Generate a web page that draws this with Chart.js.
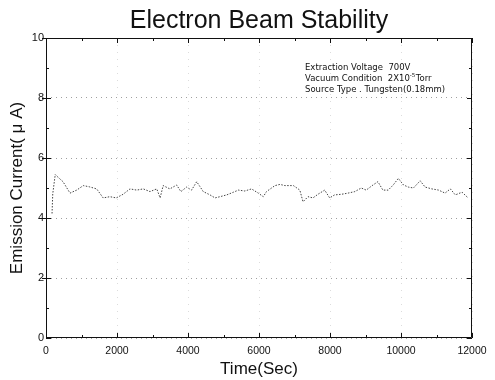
<!DOCTYPE html>
<html><head><meta charset="utf-8">
<script src="https://cdn.jsdelivr.net/npm/chart.js@4/dist/chart.umd.min.js"></script>
<style>html,body{margin:0;padding:0;background:#fff}#wrap{width:495px;height:380px}</style>
</head><body><div id="wrap"><canvas id="c" width="495" height="380"></canvas></div>
<script>
const timeSec = [170,190,260,300,480,676,864,1050,1220,1427,1610,1800,1980,2170,2366,2555,2740,2930,3120,3215,3300,3490,3680,3800,3960,4100,4245,4430,4620,4760,4900,5090,5280,5420,5600,5790,5980,6120,6210,6450,6590,6730,6970,7150,7240,7380,7520,7660,7850,7990,8130,8320,8510,8700,8880,9020,9210,9350,9490,9640,9780,9925,10070,10210,10350,10540,10680,10870,11060,11240,11390,11530,11720,11890];
const currentUA = [4.15,4.8,5.45,5.4,5.21,4.83,4.93,5.08,5.04,4.97,4.67,4.71,4.67,4.79,4.97,4.93,4.97,4.88,4.97,4.67,5.08,4.97,5.1,4.88,5.03,4.93,5.21,4.88,4.77,4.67,4.71,4.77,4.86,4.93,4.9,4.97,4.83,4.71,4.88,5.08,5.12,5.08,5.08,4.93,4.54,4.71,4.67,4.79,4.93,4.67,4.77,4.79,4.83,4.88,5.0,4.93,5.1,5.21,4.93,4.93,5.1,5.32,5.1,5.03,5.0,5.24,5.03,4.97,4.93,4.83,4.97,4.77,4.86,4.67];
const xTicks = [0,2000,4000,6000,8000,10000,12000];
const yTicks = [0,2,4,6,8,10];
const noteLines = ["Extraction Voltage  700V", "Vacuum Condition  2X10", "Source Type . Tungsten(0.18mm)"];
const noteSup = "-5";
const noteTail = "Torr";

const FONT = "'Liberation Sans', Arial, sans-serif";
const NOTE_FONT = "'DejaVu Sans', sans-serif";

const framePlugin = {
  id: 'frame',
  afterDatasetsDraw(chart) {
    const {ctx, chartArea: a, scales: {x, y}} = chart;
    ctx.save();
    ctx.strokeStyle = '#111';
    ctx.lineWidth = 1;
    ctx.beginPath();
    ctx.rect(a.left + 0.5, a.top + 0.5, a.right - a.left - 1, a.bottom - a.top - 1);
    ctx.stroke();
    ctx.beginPath();
    for (let v = 0; v <= 12000; v += 1000) {
      const px = Math.round(x.getPixelForValue(v)) + 0.5;
      const L = (v % 2000 === 0) ? 5 : 3;
      ctx.moveTo(px, a.bottom); ctx.lineTo(px, a.bottom - L);
      ctx.moveTo(px, a.top); ctx.lineTo(px, a.top + L);
    }
    for (let v = 0; v <= 10; v += 1) {
      const py = Math.round(y.getPixelForValue(v)) + 0.5;
      const L = (v % 2 === 0) ? 5 : 3;
      ctx.moveTo(a.left, py); ctx.lineTo(a.left + L, py);
      ctx.moveTo(a.right, py); ctx.lineTo(a.right - L, py);
      if (v % 2 === 0 && v > 0) { ctx.moveTo(a.left - 4, py); ctx.lineTo(a.left, py); }
    }
    ctx.stroke();
    // annotation
    ctx.fillStyle = '#111';
    ctx.font = '8.5px ' + NOTE_FONT;
    ctx.textBaseline = 'middle';
    const x0 = 305;
    ctx.fillText(noteLines[0], x0, 68);
    ctx.fillText(noteLines[1], x0, 79);
    let w = ctx.measureText(noteLines[1]).width;
    ctx.font = '5.5px ' + NOTE_FONT;
    ctx.fillText(noteSup, x0 + w, 76);
    const w2 = ctx.measureText(noteSup).width;
    ctx.font = '8.5px ' + NOTE_FONT;
    ctx.fillText(noteTail, x0 + w + w2 + 0.5, 79);
    ctx.fillText(noteLines[2], x0, 90);
    ctx.restore();
  }
};

new Chart(document.getElementById('c'), {
  type: 'line',
  data: {
    datasets: [{
      data: timeSec.map((t, i) => ({x: t, y: currentUA[i]})),
      borderColor: '#444',
      borderWidth: 1,
      borderDash: [1.5, 1.5],
      pointRadius: 0,
      tension: 0,
      fill: false
    }]
  },
  options: {
    responsive: false,
    animation: false,
    layout: {padding: {left: 0, right: 23, top: 0, bottom: 0}},
    plugins: {
      legend: {display: false},
      tooltip: {enabled: false},
      title: {
        display: true,
        text: 'Electron Beam Stability',
        fullSize: false,
        color: '#111',
        font: {family: FONT, size: 25, weight: 'normal'},
        padding: {top: 6, bottom: 2}
      }
    },
    scales: {
      x: {
        type: 'linear', min: 0, max: 12000,
        afterFit(s) { s.height = 42; },
        afterBuildTicks(s) { s.ticks = xTicks.map(v => ({value: v})); },
        ticks: {color: '#111', font: {family: FONT, size: 10.5}, padding: 7, maxRotation: 0, callback: v => String(v)},
        grid: {color: '#dcdcdc', lineWidth: 1, drawTicks: false},
        border: {display: false, dash: [1, 6]},
        title: {display: true, text: 'Time(Sec)', color: '#111', font: {family: FONT, size: 17}, padding: {top: 0, bottom: 0}}
      },
      y: {
        type: 'linear', min: 0, max: 10,
        afterFit(s) { s.width = 46; },
        afterBuildTicks(s) { s.ticks = yTicks.map(v => ({value: v})); },
        ticks: {color: '#111', font: {family: FONT, size: 11}, padding: 2, callback: v => String(v)},
        grid: {color: '#a0a0a0', lineWidth: 1, drawTicks: false},
        border: {display: false, dash: [1, 4]},
        title: {display: true, text: 'Emission Current( μ A)', color: '#111', font: {family: FONT, size: 17}, padding: {top: 7, bottom: 0}}
      }
    }
  },
  plugins: [framePlugin]
});
</script>
</body></html>
